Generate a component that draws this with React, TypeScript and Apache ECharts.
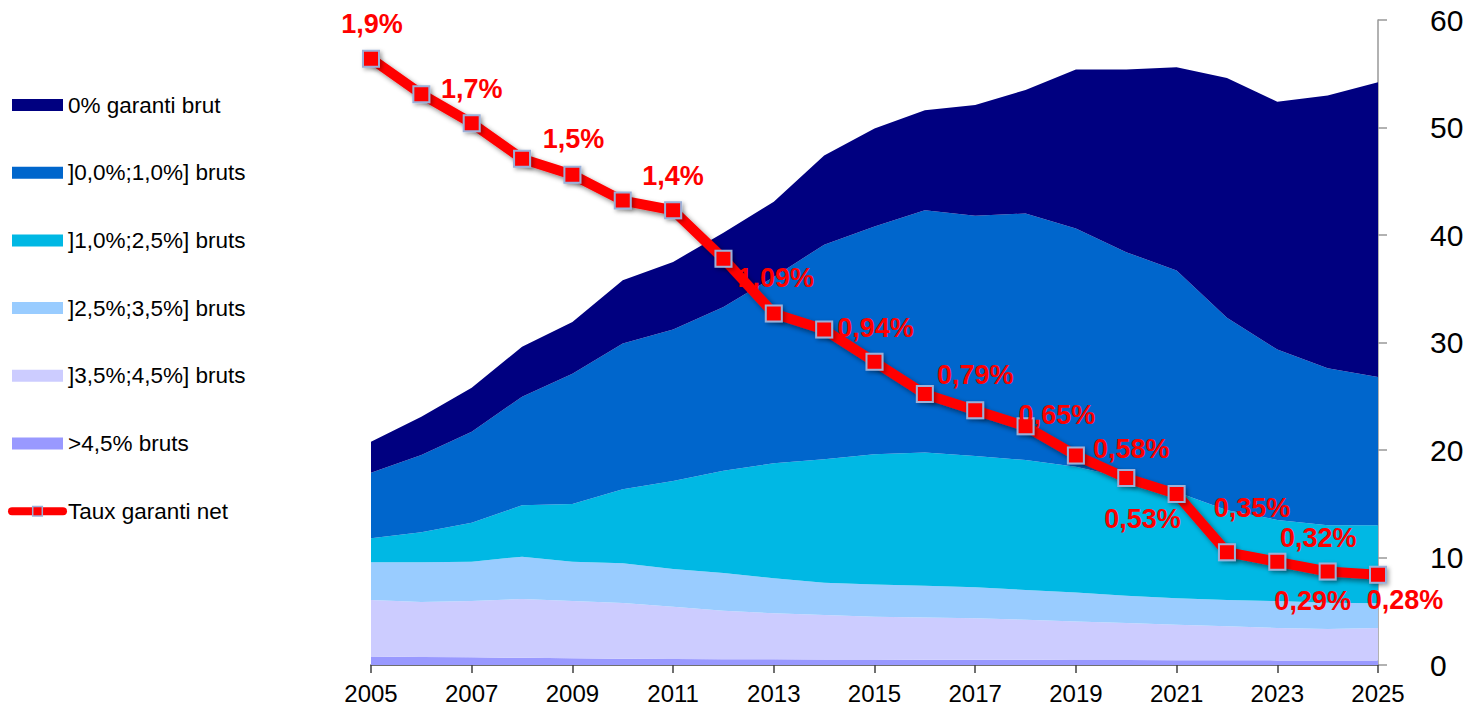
import React, { useEffect, useRef } from "react";
import * as echarts from "echarts";

const years = ["2005","2006","2007","2008","2009","2010","2011","2012","2013","2014","2015","2016","2017","2018","2019","2020","2021","2022","2023","2024","2025"];

const over45 = [0.78,0.75,0.71,0.67,0.62,0.59,0.56,0.54,0.53,0.52,0.51,0.50,0.49,0.48,0.47,0.46,0.45,0.44,0.43,0.42,0.42];
const r35to45 = [5.27,5.11,5.24,5.47,5.33,5.18,4.87,4.51,4.28,4.13,3.99,3.92,3.87,3.72,3.58,3.44,3.30,3.16,3.01,2.93,3.02];
const r25to35 = [3.50,3.69,3.66,3.94,3.66,3.69,3.50,3.51,3.25,3.01,3.00,2.96,2.87,2.78,2.69,2.55,2.47,2.45,2.51,2.45,2.31];
const r10to25 = [2.23,2.79,3.63,4.77,5.37,6.88,8.19,9.50,10.71,11.48,12.10,12.38,12.21,12.09,11.71,10.95,9.88,8.35,7.55,7.20,7.25];
const r00to10 = [6.11,7.19,8.46,10.11,12.12,13.56,14.08,15.24,17.33,19.96,21.20,22.54,22.36,22.93,22.15,21.00,20.60,17.90,15.85,14.60,13.80];
const zeroGaranti = [2.88,3.57,4.10,4.64,4.80,5.90,6.30,6.90,7.00,8.30,9.10,9.30,10.30,11.50,14.80,17.00,18.90,22.30,23.05,25.37,27.40];
const tauxNet = [1.88,1.77,1.68,1.57,1.52,1.44,1.41,1.26,1.09,1.04,0.94,0.84,0.79,0.74,0.65,0.58,0.53,0.35,0.32,0.29,0.28];

const seriesNames = [
  ">4,5% bruts",
  "]3,5%;4,5%] bruts",
  "]2,5%;3,5%] bruts",
  "]1,0%;2,5%] bruts",
  "]0,0%;1,0%] bruts",
  "0% garanti brut",
];
const lineName = "Taux garanti net";

// label placement (offset of label centre from the point), by year
const labelOffsets: Record<string, [number, number]> = {
  "2005": [1, -35],
  "2007": [0, -34],
  "2009": [1, -36],
  "2011": [0, -34],
  "2013": [2, -35],
  "2015": [1, -34],
  "2017": [0, -35],
  "2019": [-19, -40],
  "2020": [5, -29],
  "2021": [-34, 25],
  "2022": [25, -44],
  "2023": [41, -24],
  "2024": [-15, 30],
  "2025": [27, 25],
};

const colors = ["#9999FF", "#CCCCFF", "#99CCFF", "#00B8E4", "#0066CC", "#000080"];
const FONT = 'Arial, "Liberation Sans", sans-serif';

function fmtPct(v: number): string {
  const s = v >= 1.2 ? v.toFixed(1) : v.toFixed(2);
  return s.replace(".", ",") + "%";
}

export default function App() {
  const ref = useRef<HTMLDivElement>(null);
  useEffect(() => {
    document.body.style.margin = "0";
    if (!ref.current) return;
    const chart = echarts.init(ref.current, undefined, { renderer: "svg" });
    const areaData = [over45, r35to45, r25to35, r10to25, r00to10, zeroGaranti];
    const areaSeries = areaData.map((d, i) => ({
      name: seriesNames[i],
      type: "line",
      stack: "total",
      data: d,
      symbol: "none",
      showSymbol: false,
      lineStyle: { width: 0, color: colors[i] },
      itemStyle: { color: colors[i] },
      areaStyle: { color: colors[i], opacity: 1 },
      z: 2,
      silent: true,
    }));
    const lineData = tauxNet.map((v, i) => {
      const off = labelOffsets[years[i]];
      return off
        ? { value: v, label: { show: true, position: "inside", offset: off } }
        : { value: v };
    });
    const option: any = {
      animation: false,
      backgroundColor: "#ffffff",
      grid: {
        left: 371,
        right: 92,
        top: 20,
        bottom: 50,
        containLabel: false,
        outerBoundsMode: "none",
      },
      legend: {
        orient: "vertical",
        left: 8,
        top: 93,
        padding: 0,
        itemWidth: 51,
        itemHeight: 12,
        itemGap: 43.7,
        selectedMode: false,
        textStyle: { fontSize: 22.5, fontFamily: FONT, color: "#000", lineHeight: 24 },
        data: [
          { name: seriesNames[5], icon: "rect" },
          { name: seriesNames[4], icon: "rect" },
          { name: seriesNames[3], icon: "rect" },
          { name: seriesNames[2], icon: "rect" },
          { name: seriesNames[1], icon: "rect" },
          { name: seriesNames[0], icon: "rect" },
          {
            name: lineName,
            lineStyle: { width: 8, cap: "round", color: "#FF0000", shadowBlur: 0, shadowOffsetX: 0, shadowOffsetY: 0 },
            itemStyle: { color: "#FF0000", borderColor: "#9BB0D8", borderWidth: 1.5, shadowBlur: 0, shadowOffsetX: 0, shadowOffsetY: 0 },
          },
        ],
      },
      xAxis: {
        type: "category",
        data: years,
        boundaryGap: false,
        axisLine: { show: true, lineStyle: { color: "#404040", width: 1.5 } },
        axisTick: { show: true, interval: 1, length: 8, lineStyle: { color: "#404040", width: 1.5 } },
        axisLabel: { interval: 1, fontSize: 24, fontFamily: FONT, color: "#000", margin: 16 },
        splitLine: { show: false },
      },
      yAxis: [
        {
          type: "value",
          position: "right",
          min: 0,
          max: 60,
          interval: 10,
          axisLine: { show: true, lineStyle: { color: "#999999", width: 1.5 } },
          axisTick: { show: true, length: 9, lineStyle: { color: "#999999", width: 1.5 } },
          axisLabel: { fontSize: 30, fontFamily: FONT, color: "#000", margin: 52 },
          splitLine: { show: false },
        },
        {
          type: "value",
          position: "left",
          min: 0,
          max: 2,
          show: false,
          splitLine: { show: false },
        },
      ],
      series: [
        ...areaSeries,
        {
          name: lineName,
          type: "line",
          yAxisIndex: 1,
          data: lineData,
          symbol: "rect",
          symbolSize: 16,
          showSymbol: true,
          z: 10,
          lineStyle: {
            color: "#FF0000",
            width: 10,
            shadowColor: "rgba(0,0,0,0.45)",
            shadowBlur: 5,
            shadowOffsetX: 3,
            shadowOffsetY: 3,
          },
          itemStyle: {
            color: "#FF0000",
            borderColor: "#9BB0D8",
            borderWidth: 2,
            shadowColor: "rgba(0,0,0,0.35)",
            shadowBlur: 4,
            shadowOffsetX: 2,
            shadowOffsetY: 2,
          },
          label: {
            show: false,
            fontSize: 27,
            fontWeight: "bold",
            fontFamily: FONT,
            color: "#FF0000",
            formatter: (p: any) => fmtPct(p.value),
          },
        },
      ],
    };
    chart.setOption(option);
    return () => chart.dispose();
  }, []);
  return <div ref={ref} style={{ width: 1470, height: 715 }} />;
}
